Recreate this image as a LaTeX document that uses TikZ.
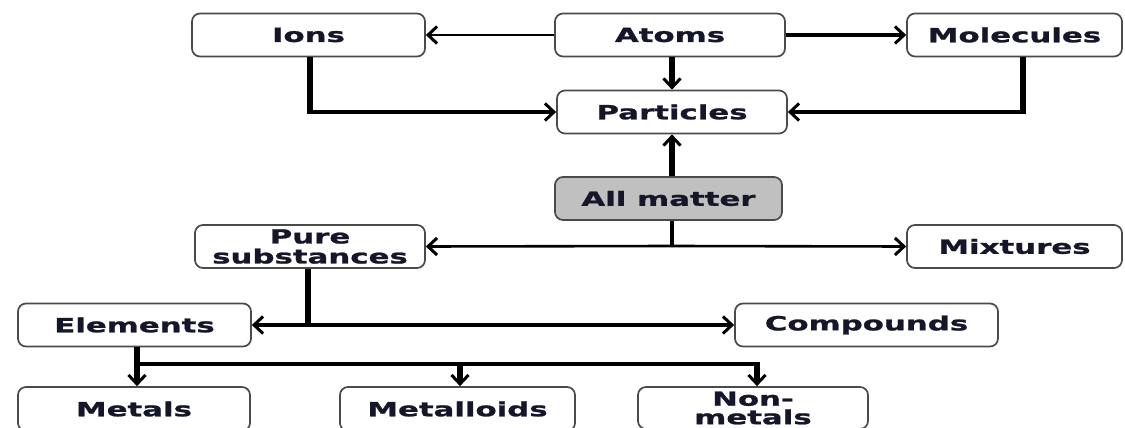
\documentclass[tikz,border=0pt]{standalone}
\usepackage{fontspec}
\newfontfamily\bx{DejaVu Sans}[FakeStretch=1.58, FakeBold=1.2]
\usetikzlibrary{arrows.meta}
\definecolor{boxc}{HTML}{4A4A4A}
\definecolor{txt}{HTML}{16162A}
\definecolor{grayfill}{HTML}{C0C0C0}
\begin{document}
\begin{tikzpicture}[x=1pt,y=-1pt,
  box/.style={draw=boxc, line width=1.7pt, rounded corners=8pt, fill=white,
    font=\bx\bfseries\fontsize{19.5}{20}\selectfont, text=txt, inner sep=1pt,
    align=center, minimum height=43pt},
  tip/.style={-{Straight Barb[length=9pt,width=17pt,line width=3pt]}},
  hline/.style={line width=3.2pt, black},
  thinline/.style={line width=2.6pt, black},
  vline/.style={line width=6pt, black},
]
\useasboundingbox (0,0) rectangle (1125,428);
% nodes
\node[box, minimum width=233pt] (ions) at (308.5,35) {Ions};
\node[box, minimum width=230pt] (atoms) at (670,35) {Atoms};
\node[box, minimum width=215pt] (mol) at (1014.5,35) {Molecules};
\node[box, minimum width=230pt] (parts) at (672,112) {Particles};
\node[box, minimum width=227pt, fill=grayfill] (all) at (668.5,198.5) {All matter};
\node[box, minimum width=230pt] (pure) at (310,246.5) {Pure\\substances};
\node[box, minimum width=215pt] (mix) at (1014.5,246.5) {Mixtures};
\node[box, minimum width=233pt] (elem) at (134.5,325) {Elements};
\node[box, minimum width=263pt] (comp) at (866.5,325) {Compounds};
\node[box, minimum width=232pt, minimum height=44pt] (metals) at (134,409) {Metals};
\node[box, minimum width=235pt, minimum height=44pt] (metalloids) at (457.5,409) {Metalloids};
\node[box, minimum width=230pt, minimum height=42pt, font=\bx\bfseries\fontsize{19.5}{18.5}\selectfont] (nonmetals) at (753,408) {Non-\\metals};
% junction coordinates
\coordinate (jI) at (310,112);
\coordinate (jM) at (1023,112);
\coordinate (jA) at (672,246);
\coordinate (jP) at (308,325);
\coordinate (jE) at (137,364);
\coordinate (jL) at (460,364);
\coordinate (jN) at (757,364);
% top connectors
\draw[thinline, tip] (atoms.west) -- (ions.east);
\draw[hline, tip] (atoms.east) -- (mol.west);
\draw[vline, tip] (atoms.south -| parts.north) -- (parts.north);
\draw[vline] (ions.south -| jI) -- ([yshift=-1.6pt]jI);
\draw[hline, tip] (jI) -- (parts.west);
\draw[vline] (mol.south -| jM) -- ([yshift=-1.6pt]jM);
\draw[hline, tip] (jM) -- (parts.east);
\draw[vline, tip] (all.north -| parts.south) -- (parts.south);
% all matter branch
\draw[line width=4.8pt] (all.south -| jA) -- ([yshift=-1.3pt]jA);
\draw[thinline, tip] (jA) -- (pure.east);
\draw[thinline, tip] (jA) -- (mix.west);
% pure substances branch
\draw[vline] (pure.south -| jP) -- ([yshift=-1.6pt]jP);
\draw[hline, tip] (jP) -- (elem.east);
\draw[hline, tip] (jP) -- (comp.west);
% elements branch
\draw[vline, tip] (elem.south -| jE) -- (metals.north -| jE);
\draw[hline] ([xshift=2pt]jE) -- ([xshift=1.6pt]jN);
\draw[vline, tip] ([yshift=1.6pt]jL) -- (metalloids.north -| jL);
\draw[vline, tip] ([yshift=1.6pt]jN) -- (nonmetals.north -| jN);
\end{tikzpicture}
\end{document}
